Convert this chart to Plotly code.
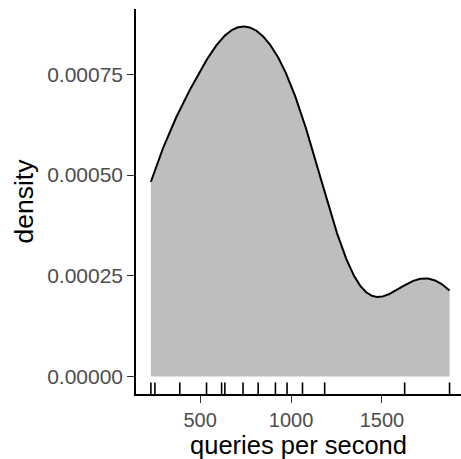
import numpy as np
import plotly.graph_objects as go

# observed queries per second (rug marks)
qps = [229, 251, 388, 535, 618, 636, 736, 819, 914, 978, 1063, 1185, 1625, 1872]
x_ticks = [500, 1000, 1500]
y_ticks = [0.0, 0.00025, 0.0005, 0.00075]
y_tick_labels = ["0.00000", "0.00025", "0.00050", "0.00075"]

# Gaussian KDE (bw.nrd0, as ggplot's geom_density)
d = np.array(qps, dtype=float)
n = len(d)
q1, q3 = np.percentile(d, [25, 75])
bw = 0.9 * min(d.std(ddof=1), (q3 - q1) / 1.34) * n ** -0.2
gx = np.linspace(d.min(), d.max(), 512)
gy = np.exp(-0.5 * ((gx[:, None] - d[None, :]) / bw) ** 2).sum(axis=1) / (n * bw * np.sqrt(2 * np.pi))

fig = go.Figure()
fig.add_trace(go.Scatter(x=gx, y=gy, mode="lines", fill="tozeroy",
                         fillcolor="#BEBEBE", line=dict(color="black", width=2),
                         hoverinfo="skip"))
rx, ry = [], []
for v in qps:
    rx += [v, v, None]
    ry += [0, 0.03, None]
fig.add_trace(go.Scatter(x=rx, y=ry, mode="lines", yaxis="y2",
                         line=dict(color="black", width=1.6), hoverinfo="skip"))

ymax = gy.max()
fig.update_layout(
    width=461, height=459,
    margin=dict(l=136, r=0, t=9, b=65),
    paper_bgcolor="white", plot_bgcolor="white",
    showlegend=False,
    font=dict(family="Liberation Sans, Arial, sans-serif"),
    xaxis=dict(range=[147, 1935], tickvals=x_ticks, ticks="outside", ticklen=7,
               tickwidth=1.2, tickcolor="#333333", showline=True, linecolor="black",
               linewidth=1.5, showgrid=False, zeroline=False,
               tickfont=dict(size=20, color="#4D4D4D"),
               title=dict(text="queries per second", font=dict(size=25.5, color="black"), standoff=11)),
    yaxis=dict(range=[-0.05 * ymax, 1.05 * ymax], tickvals=y_ticks, ticktext=y_tick_labels,
               ticks="outside", ticklen=7, tickwidth=1.2, tickcolor="#333333",
               showline=True, linecolor="black", linewidth=1.5, showgrid=False,
               zeroline=False, tickfont=dict(size=21, color="#4D4D4D"),
               title=dict(text="density", font=dict(size=26.5, color="black"), standoff=6)),
    yaxis2=dict(range=[0, 1], overlaying="y", visible=False),
)
fig.write_html("out.html")
